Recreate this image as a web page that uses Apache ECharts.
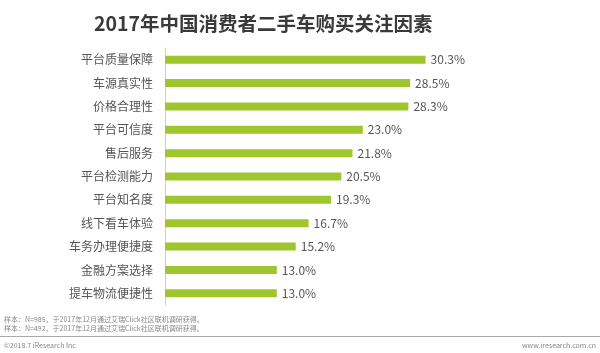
<!DOCTYPE html>
<html>
<head>
<meta charset="utf-8">
<script src="https://cdn.jsdelivr.net/npm/echarts@6/dist/echarts.min.js"></script>
<style>
  html, body { margin: 0; padding: 0; background: #fff; }
  #main { width: 600px; height: 353px; }
</style>
</head>
<body>
<div id="main"></div>
<script>
// 数据
var categories = ['平台质量保障', '车源真实性', '价格合理性', '平台可信度', '售后服务', '平台检测能力',
                  '平台知名度', '线下看车体验', '车务办理便捷度', '金融方案选择', '提车物流便捷性'];
var values = [30.3, 28.5, 28.3, 23.0, 21.8, 20.5, 19.3, 16.7, 15.2, 13.0, 13.0];
var notes = ['样本：N=985，于2017年12月通过艾瑞Click社区联机调研获得。',
             '样本：N=492，于2017年12月通过艾瑞Click社区联机调研获得。'];

var font = '"Noto Sans CJK SC", "Microsoft YaHei", sans-serif';
var myChart = echarts.init(document.getElementById('main'));

option = {
    backgroundColor: '#fff',
    textStyle: { fontFamily: font },
    title: {
        text: '2017年中国消费者二手车购买关注因素',
        left: 89,
        top: 9,
        textStyle: { fontSize: 19.5, fontWeight: 'bold', color: '#3a3a3a', fontFamily: font }
    },
    grid: { left: 165, right: 134, top: 48, bottom: 48, containLabel: false },
    xAxis: {
        type: 'value',
        min: 0,
        max: 35,
        show: false
    },
    yAxis: {
        type: 'category',
        inverse: true,
        data: categories,
        axisLine: { show: true, lineStyle: { color: '#cfcfcf', width: 1 } },
        axisTick: { show: false },
        axisLabel: { color: '#555', fontSize: 12, margin: 12, fontFamily: font }
    },
    series: [{
        type: 'bar',
        data: values,
        barWidth: 8,
        itemStyle: { color: '#9fc62c' },
        label: {
            show: true,
            position: 'right',
            distance: 5,
            color: '#555',
            fontSize: 12,
            fontFamily: font,
            formatter: function (p) { return p.value.toFixed(1) + '%'; }
        }
    }],
    graphic: [
        { type: 'text', left: 4, top: 316, style: { text: notes[0], fill: '#888', font: '7px ' + font } },
        { type: 'text', left: 4, top: 325, style: { text: notes[1], fill: '#888', font: '7px ' + font } },
        { type: 'rect', shape: { x: 0, y: 336, width: 600, height: 1 }, style: { fill: '#aaa' } },
        { type: 'text', left: 4, top: 342, style: { text: '©2018.7 iResearch Inc', fill: '#888', font: '7px ' + font } },
        { type: 'text', right: 4, top: 342, style: { text: 'www.iresearch.com.cn', fill: '#888', font: '7px ' + font } }
    ]
};

myChart.setOption(option);
</script>
</body>
</html>
